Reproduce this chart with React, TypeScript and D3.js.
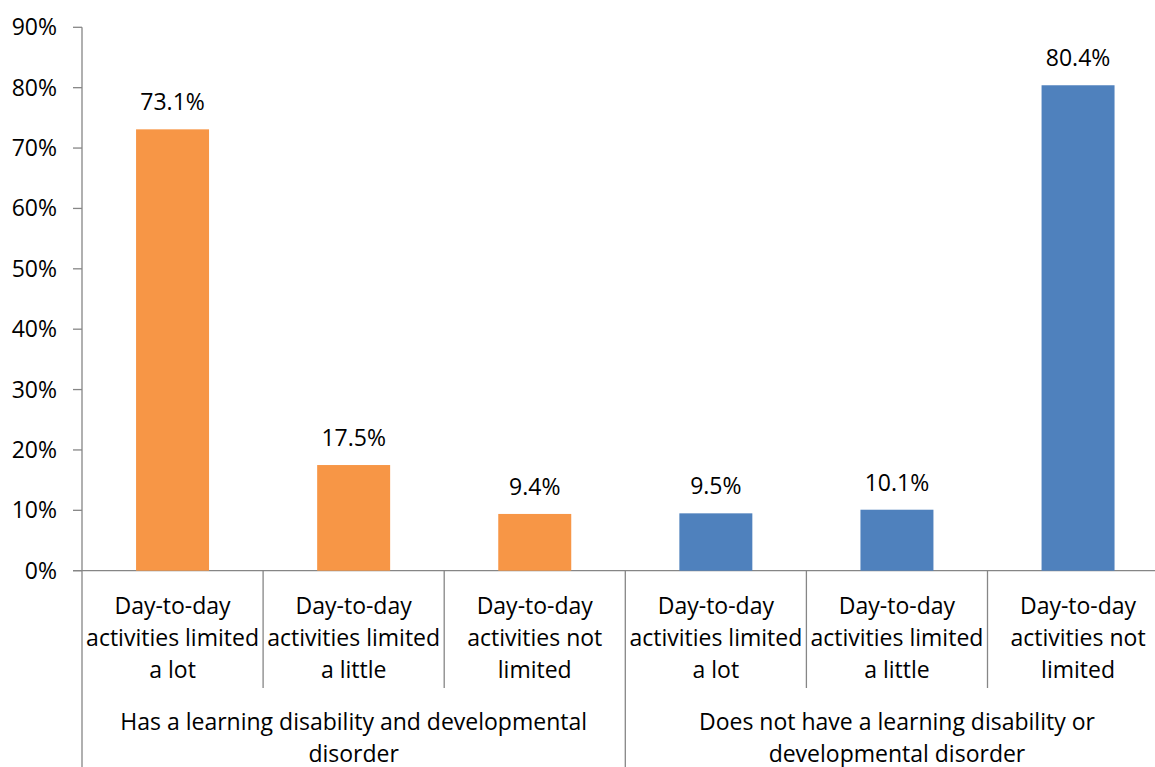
import React from "react";
import { scaleBand, scaleLinear } from "d3";

const categories = [
  ["Day-to-day", "activities limited", "a lot"],
  ["Day-to-day", "activities limited", "a little"],
  ["Day-to-day", "activities not", "limited"],
  ["Day-to-day", "activities limited", "a lot"],
  ["Day-to-day", "activities limited", "a little"],
  ["Day-to-day", "activities not", "limited"],
];
const values = [73.1, 17.5, 9.4, 9.5, 10.1, 80.4];
const groups = [
  { lines: ["Has a learning disability and developmental", "disorder"], from: 0, to: 3 },
  { lines: ["Does not have a learning disability or", "developmental disorder"], from: 3, to: 6 },
];
const yTicks = [0, 10, 20, 30, 40, 50, 60, 70, 80, 90];
const colors = ["#F79646", "#F79646", "#F79646", "#4F81BD", "#4F81BD", "#4F81BD"];

const W = 1155;
const H = 767;
const left = 82;
const top = 27.3;
const bottom = 570.7;
const bandW = 181.1;
const font = "'Open Sans', sans-serif";
const fs = 23;
const axisColor = "#868686";

export default function App() {
  const x = scaleBand<number>()
    .domain(categories.map((_, i) => i))
    .range([left, left + bandW * categories.length])
    .padding(0);
  const y = scaleLinear().domain([0, 90]).range([bottom, top]);
  const barW = x.bandwidth() * 0.403;

  return (
    <svg
      width={W}
      height={H}
      style={{ position: "absolute", left: 0, top: 0, background: "#fff" }}
      fontFamily={font}
    >
      {/* y axis */}
      <line x1={left} x2={left} y1={y(90)} y2={H} stroke={axisColor} strokeWidth={1.3} />
      {yTicks.map((t) => (
        <g key={t}>
          <line x1={left - 9} x2={left} y1={y(t)} y2={y(t)} stroke={axisColor} strokeWidth={1.3} />
          <text x={57} y={y(t)} dy="0.35em" textAnchor="end" fontSize={fs} fill="#000">
            {t}%
          </text>
        </g>
      ))}
      {/* x axis */}
      <line x1={left - 9} x2={W} y1={bottom} y2={bottom} stroke={axisColor} strokeWidth={1.3} />
      {categories.map((_, i) => {
        if (i === 0) return null;
        const isGroup = groups.some((g) => g.from === i);
        return (
          <line
            key={i}
            x1={x(i)}
            x2={x(i)}
            y1={bottom}
            y2={isGroup ? H : 688}
            stroke={axisColor}
            strokeWidth={1.3}
          />
        );
      })}
      {/* bars */}
      {values.map((v, i) => {
        const cx = (x(i) as number) + x.bandwidth() / 2;
        return (
          <g key={i}>
            <rect x={cx - barW / 2} y={y(v)} width={barW} height={y(0) - y(v)} fill={colors[i]} />
            <text x={cx} y={y(v) - 19} textAnchor="middle" fontSize={fs} fill="#000">
              {v.toFixed(1)}%
            </text>
          </g>
        );
      })}
      {/* category labels */}
      {categories.map((lines, i) => {
        const cx = (x(i) as number) + x.bandwidth() / 2;
        return (
          <text key={i} textAnchor="middle" fontSize={fs} fill="#000">
            {lines.map((l, j) => (
              <tspan key={j} x={cx} y={614 + j * 32}>
                {l}
              </tspan>
            ))}
          </text>
        );
      })}
      {/* group labels */}
      {groups.map((g, i) => {
        const cx = ((x(g.from) as number) + (x(g.to - 1) as number) + x.bandwidth()) / 2;
        return (
          <text key={i} textAnchor="middle" fontSize={fs} fill="#000">
            {g.lines.map((l, j) => (
              <tspan key={j} x={cx} y={730 + j * 32}>
                {l}
              </tspan>
            ))}
          </text>
        );
      })}
    </svg>
  );
}
